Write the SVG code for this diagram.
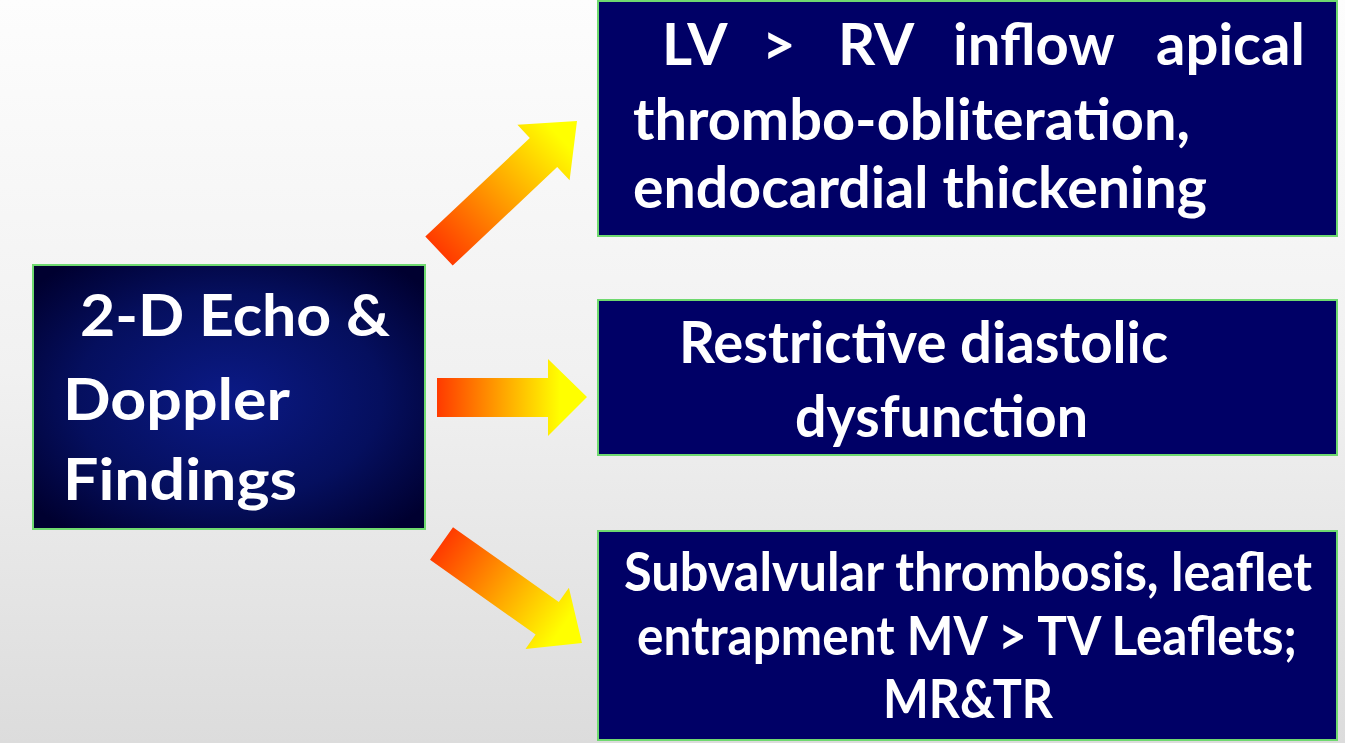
<svg xmlns="http://www.w3.org/2000/svg" width="1345" height="743" viewBox="0 0 1345 743">
  <defs>
    <linearGradient id="bg" x1="0" y1="0" x2="0" y2="1">
      <stop offset="0" stop-color="#fdfdfd"/>
      <stop offset="0.5" stop-color="#f1f1f1"/>
      <stop offset="1" stop-color="#dcdcdc"/>
    </linearGradient>
    <radialGradient id="leftFill" cx="0.5" cy="0.5" r="0.65">
      <stop offset="0" stop-color="#0b1a86"/>
      <stop offset="0.6" stop-color="#050f5e"/>
      <stop offset="1" stop-color="#000030"/>
    </radialGradient>
    <linearGradient id="gTop" gradientUnits="userSpaceOnUse" x1="439" y1="251" x2="560" y2="137">
      <stop offset="0" stop-color="#ff3a00"/>
      <stop offset="0.55" stop-color="#ffa800"/>
      <stop offset="1" stop-color="#ffff00"/>
    </linearGradient>
    <linearGradient id="gMid" gradientUnits="userSpaceOnUse" x1="437" y1="0" x2="560" y2="0">
      <stop offset="0" stop-color="#ff3a00"/>
      <stop offset="0.55" stop-color="#ffa800"/>
      <stop offset="1" stop-color="#ffff00"/>
    </linearGradient>
    <linearGradient id="gBot" gradientUnits="userSpaceOnUse" x1="441" y1="543" x2="562" y2="628">
      <stop offset="0" stop-color="#ff3a00"/>
      <stop offset="0.55" stop-color="#ffa800"/>
      <stop offset="1" stop-color="#ffff00"/>
    </linearGradient>
  </defs>
  <style>
    .box { fill: #000066; stroke: #6fd96f; stroke-width: 2; }
    .t { fill: #ffffff; font-family: Lato, "Open Sans", sans-serif; font-weight: bold; }
    .s60 { font-size: 58px; }
    .s58 { font-size: 58px; }
    .s54 { font-size: 53px; }
    .s56 { font-size: 58px; }
  </style>
  <rect x="0" y="0" width="1345" height="743" fill="url(#bg)"/>

  <g id="connectors">
    <polygon fill="url(#gTop)" points="425.3,236.4 529.8,138 517.4,124.8 577,121 569.6,180.2 557.2,167 452.7,265.6"/>
    <polygon fill="url(#gMid)" points="437,378 548,378 548,359 587,397 548,436 548,417 437,417"/>
    <polygon fill="url(#gBot)" points="453,527.2 558.8,602 568.9,587.7 582,643 525.5,648.9 535.6,634.6 430,559.8"/>
  </g>

  <g id="node-source">
    <rect x="33" y="265" width="392" height="264" fill="url(#leftFill)" stroke="#6fd96f" stroke-width="2"/>
    <text class="t s56" x="80" y="336" textLength="310" lengthAdjust="spacingAndGlyphs">2-D Echo &amp;</text>
    <text class="t s56" x="63" y="420" textLength="227" lengthAdjust="spacingAndGlyphs">Doppler</text>
    <text class="t s56" x="63" y="500" textLength="234" lengthAdjust="spacingAndGlyphs">Findings</text>
  </g>

  <g id="node-thrombo">
    <rect class="box" x="598" y="1" width="739" height="235"/>
    <text class="t s60" y="65"><tspan x="662">LV</tspan><tspan x="762">&gt;</tspan><tspan x="838">RV</tspan><tspan x="953">inflow</tspan><tspan x="1156">apical</tspan></text>
    <text class="t s60" x="633" y="140" textLength="557" lengthAdjust="spacingAndGlyphs">thrombo-obliteration,</text>
    <text class="t s60" x="633" y="208" textLength="574" lengthAdjust="spacingAndGlyphs">endocardial thickening</text>
  </g>

  <g id="node-restrictive">
    <rect class="box" x="598" y="300" width="739" height="155"/>
    <text class="t s58" x="679" y="363" textLength="489" lengthAdjust="spacingAndGlyphs">Restrictive diastolic</text>
    <text class="t s58" x="795" y="437" textLength="293" lengthAdjust="spacingAndGlyphs">dysfunction</text>
  </g>

  <g id="node-subvalvular">
    <rect class="box" x="598" y="531" width="739" height="209"/>
    <text class="t s54" x="624" y="591" textLength="688" lengthAdjust="spacingAndGlyphs">Subvalvular thrombosis, leaflet</text>
    <text class="t s54" x="637" y="655" textLength="660" lengthAdjust="spacingAndGlyphs">entrapment MV &gt; TV Leaflets;</text>
    <text class="t s54" x="883" y="718" textLength="170" lengthAdjust="spacingAndGlyphs">MR&amp;TR</text>
  </g>
</svg>
